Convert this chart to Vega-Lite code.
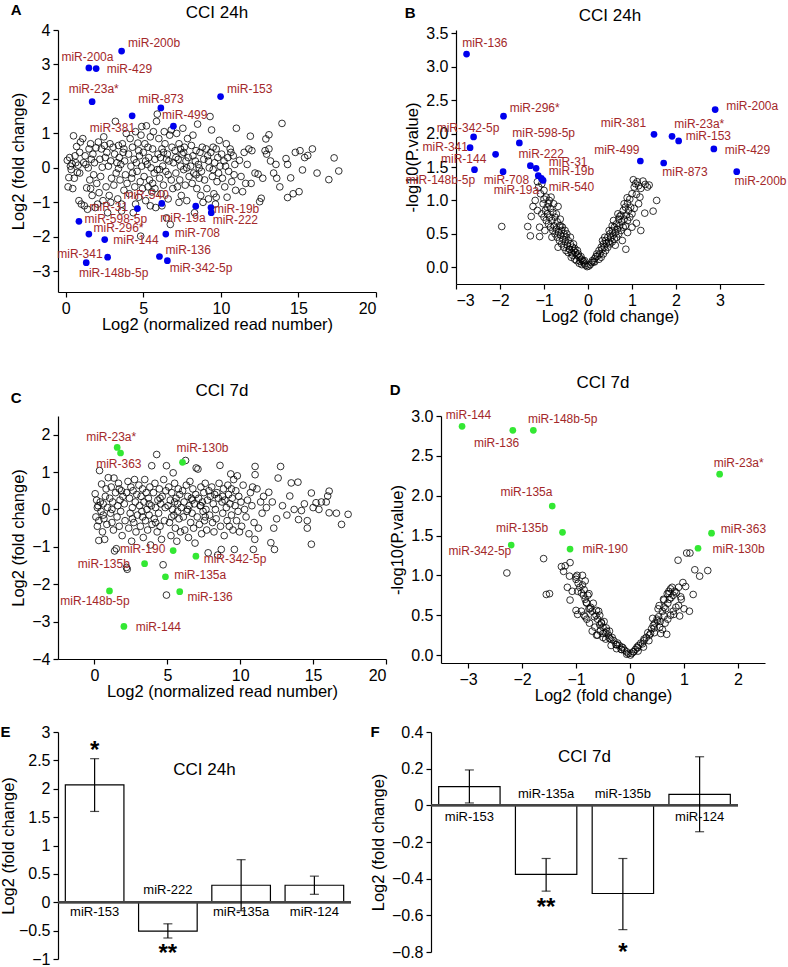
{
"$schema":"https://vega.github.io/schema/vega-lite/v6.json",
"background":"white",
"padding":{"left":0,"top":3,"right":2,"bottom":2},
"config":{
 "font":"Liberation Sans",
 "view":{"stroke":null},
 "axis":{"grid":false,"labelOverlap":false,"domainColor":"black","domainWidth":1.2,"tickColor":"black","tickWidth":1.2,"tickSize":5,"labelColor":"black","labelFontSize":16,"titleColor":"black","titleFontSize":16.5,"titleFontWeight":"normal","labelPadding":3,"titlePadding":5},
 "axisX":{"titlePadding":0},
 "title":{"fontSize":17,"fontWeight":"normal","color":"black","offset":4}
},
"datasets":{
"aOpen":[{"x":0.1,"y":0.22},{"x":0.2,"y":-0.28},{"x":0.3,"y":0.05},{"x":0.15,"y":-0.55},{"x":0.4,"y":0.12},{"x":0.5,"y":0.93},{"x":0.55,"y":-0.3},{"x":0.6,"y":0.35},{"x":0.7,"y":0.62},{"x":0.75,"y":-0.13},{"x":0.8,"y":0.08},{"x":0.85,"y":-0.95},{"x":0.9,"y":0.45},{"x":0.95,"y":0.75},{"x":1.0,"y":-1.05},{"x":0.35,"y":-0.05},{"x":0.65,"y":0.15},{"x":0.45,"y":-0.6},{"x":0.25,"y":0.3},{"x":0.9,"y":-0.15},
{"x":1.1,"y":0.85},{"x":1.2,"y":-1.1},{"x":1.3,"y":0.1},{"x":1.35,"y":-0.58},{"x":1.45,"y":0.0},{"x":1.5,"y":0.55},{"x":1.55,"y":-0.35},{"x":1.6,"y":0.7},{"x":1.65,"y":0.25},{"x":1.7,"y":-0.8},{"x":1.75,"y":0.4},{"x":1.8,"y":-0.2},{"x":1.85,"y":0.15},{"x":1.9,"y":-1.15},{"x":1.95,"y":0.58},{"x":2.0,"y":-0.45},{"x":1.25,"y":0.35},{"x":1.4,"y":-1.2},{"x":1.15,"y":0.15},{"x":1.6,"y":-0.6},
{"x":2.1,"y":0.75},{"x":2.15,"y":-0.72},{"x":2.2,"y":0.25},{"x":2.25,"y":-0.25},{"x":2.3,"y":0.55},{"x":2.35,"y":0.02},{"x":2.4,"y":-0.95},{"x":2.5,"y":0.65},{"x":2.55,"y":0.3},{"x":2.6,"y":-0.55},{"x":2.65,"y":0.45},{"x":2.7,"y":-1.3},{"x":2.75,"y":0.05},{"x":2.8,"y":-0.8},{"x":2.85,"y":0.7},{"x":2.9,"y":0.2},{"x":2.95,"y":-0.3},{"x":2.05,"y":-1.05},{"x":2.45,"y":0.9},{"x":2.9,"y":-1.0},
{"x":3.05,"y":0.6},{"x":3.1,"y":-0.5},{"x":3.15,"y":0.4},{"x":3.2,"y":1.35},{"x":3.25,"y":-0.15},{"x":3.3,"y":0.15},{"x":3.35,"y":-0.9},{"x":3.4,"y":0.65},{"x":3.45,"y":0.3},{"x":3.5,"y":-0.35},{"x":3.55,"y":0.1},{"x":3.6,"y":-1.05},{"x":3.65,"y":0.7},{"x":3.7,"y":0.45},{"x":3.75,"y":-0.65},{"x":3.8,"y":0.2},{"x":3.85,"y":-0.2},{"x":3.9,"y":1.0},{"x":3.95,"y":-0.45},{"x":3.6,"y":-1.25},{"x":3.4,"y":-0.02},{"x":3.75,"y":0.55},
{"x":4.05,"y":0.4},{"x":4.1,"y":-0.75},{"x":4.15,"y":0.85},{"x":4.2,"y":0.05},{"x":4.25,"y":-0.3},{"x":4.3,"y":0.6},{"x":4.35,"y":-1.3},{"x":4.4,"y":0.25},{"x":4.45,"y":-0.55},{"x":4.5,"y":1.05},{"x":4.55,"y":0.15},{"x":4.6,"y":-0.1},{"x":4.65,"y":0.72},{"x":4.7,"y":-0.85},{"x":4.75,"y":0.35},{"x":4.8,"y":-0.4},{"x":4.85,"y":0.95},{"x":4.9,"y":1.2},{"x":4.95,"y":-0.6},{"x":4.83,"y":-1.98},{"x":4.5,"y":-1.05},{"x":4.3,"y":-0.15},{"x":4.7,"y":0.5},{"x":4.9,"y":0.05},
{"x":5.0,"y":0.45},{"x":5.05,"y":-0.25},{"x":5.1,"y":0.7},{"x":5.15,"y":-0.95},{"x":5.2,"y":1.22},{"x":5.25,"y":0.1},{"x":5.3,"y":-0.55},{"x":5.35,"y":0.3},{"x":5.4,"y":-0.35},{"x":5.45,"y":0.9},{"x":5.5,"y":0.0},{"x":5.55,"y":-0.7},{"x":5.6,"y":0.55},{"x":5.65,"y":1.05},{"x":5.7,"y":-0.15},{"x":5.75,"y":0.25},{"x":5.8,"y":-1.15},{"x":5.85,"y":1.35},{"x":5.9,"y":1.56},{"x":5.95,"y":0.4},{"x":5.3,"y":0.6},{"x":5.6,"y":-0.45},{"x":5.15,"y":0.2},{"x":5.75,"y":-0.6},{"x":5.45,"y":-1.1},{"x":5.9,"y":-0.05},
{"x":6.0,"y":0.85},{"x":6.05,"y":-0.3},{"x":6.1,"y":0.3},{"x":6.15,"y":-0.75},{"x":6.2,"y":0.55},{"x":6.25,"y":0.05},{"x":6.3,"y":-0.5},{"x":6.35,"y":1.05},{"x":6.4,"y":0.7},{"x":6.45,"y":-0.1},{"x":6.5,"y":-1.45},{"x":6.55,"y":0.4},{"x":6.6,"y":-0.9},{"x":6.65,"y":0.2},{"x":6.7,"y":0.95},{"x":6.74,"y":-1.64},{"x":6.8,"y":-0.35},{"x":6.85,"y":0.6},{"x":6.9,"y":-0.6},{"x":6.95,"y":0.15},{"x":6.2,"y":-1.1},{"x":6.5,"y":0.25},{"x":6.3,"y":0.45},{"x":6.8,"y":1.1},{"x":6.05,"y":-0.05},{"x":6.6,"y":-0.2},
{"x":7.05,"y":0.5},{"x":7.1,"y":-0.15},{"x":7.15,"y":1.0},{"x":7.2,"y":-0.55},{"x":7.25,"y":0.25},{"x":7.3,"y":0.7},{"x":7.35,"y":-0.35},{"x":7.4,"y":0.05},{"x":7.45,"y":-0.8},{"x":7.5,"y":0.4},{"x":7.55,"y":1.15},{"x":7.6,"y":-0.05},{"x":7.65,"y":0.6},{"x":7.7,"y":-0.5},{"x":7.75,"y":0.2},{"x":7.8,"y":-0.95},{"x":7.85,"y":0.85},{"x":7.9,"y":0.3},{"x":7.95,"y":-0.25},{"x":7.3,"y":-1.0},{"x":7.6,"y":0.45},{"x":7.1,"y":0.3},{"x":7.8,"y":0.0},{"x":7.4,"y":0.55},
{"x":8.05,"y":0.05},{"x":8.1,"y":0.65},{"x":8.15,"y":-0.45},{"x":8.2,"y":0.35},{"x":8.25,"y":-0.15},{"x":8.3,"y":-1.3},{"x":8.35,"y":0.2},{"x":8.4,"y":0.5},{"x":8.45,"y":-0.6},{"x":8.5,"y":1.27},{"x":8.55,"y":0.1},{"x":8.6,"y":-0.3},{"x":8.65,"y":0.45},{"x":8.7,"y":-0.8},{"x":8.75,"y":-0.1},{"x":8.8,"y":0.6},{"x":8.85,"y":-1.0},{"x":8.9,"y":0.25},{"x":8.95,"y":-0.35},{"x":8.2,"y":0.95},{"x":8.6,"y":0.0},{"x":8.4,"y":-0.2},
{"x":9.05,"y":0.55},{"x":9.1,"y":-0.6},{"x":9.15,"y":0.35},{"x":9.2,"y":-0.9},{"x":9.25,"y":0.0},{"x":9.3,"y":1.49},{"x":9.35,"y":0.45},{"x":9.4,"y":1.1},{"x":9.45,"y":-0.25},{"x":9.5,"y":0.6},{"x":9.55,"y":-0.75},{"x":9.6,"y":0.15},{"x":9.65,"y":-1.05},{"x":9.7,"y":0.55},{"x":9.75,"y":-0.4},{"x":9.8,"y":0.3},{"x":9.85,"y":-0.15},{"x":9.9,"y":0.8},{"x":9.95,"y":0.05},{"x":9.2,"y":0.2},{"x":9.5,"y":-0.05},{"x":9.7,"y":-0.85},
{"x":10.05,"y":0.4},{"x":10.1,"y":-0.3},{"x":10.2,"y":0.2},{"x":10.25,"y":-0.55},{"x":10.3,"y":0.05},{"x":10.4,"y":-0.85},{"x":10.45,"y":0.3},{"x":10.5,"y":-0.1},{"x":10.6,"y":0.55},{"x":10.65,"y":0.45},{"x":10.7,"y":-0.4},{"x":10.8,"y":0.35},{"x":10.85,"y":-0.2},{"x":10.9,"y":0.1},{"x":10.95,"y":-0.65},{"x":10.35,"y":0.7},
{"x":11.0,"y":1.15},{"x":11.2,"y":0.22},{"x":11.3,"y":-0.25},{"x":11.4,"y":-0.69},{"x":11.6,"y":-0.45},{"x":11.7,"y":0.1},{"x":11.5,"y":0.45},{"x":11.9,"y":0.92},{"x":11.95,"y":-0.45},{"x":11.8,"y":0.55},
{"x":12.0,"y":0.5},{"x":12.2,"y":-0.15},{"x":12.4,"y":-0.18},{"x":12.5,"y":-0.98},{"x":12.6,"y":-0.88},{"x":12.7,"y":-0.3},{"x":12.85,"y":0.5},{"x":12.9,"y":0.84},{"x":12.95,"y":0.4},
{"x":13.1,"y":0.96},{"x":13.1,"y":0.55},{"x":13.2,"y":0.2},{"x":13.4,"y":-0.15},{"x":13.55,"y":0.1},{"x":13.6,"y":-0.3},{"x":13.8,"y":-0.55},{"x":13.94,"y":1.29},{"x":14.2,"y":0.27},{"x":14.3,"y":-0.86},{"x":14.5,"y":-0.29},{"x":14.66,"y":-0.75},{"x":14.8,"y":0.45},{"x":15.04,"y":-0.69},{"x":15.26,"y":-0.06},{"x":15.4,"y":0.3},{"x":15.6,"y":0.36},{"x":15.9,"y":0.55},{"x":16.2,"y":-0.15},{"x":16.96,"y":-0.34},{"x":17.3,"y":0.29},{"x":17.6,"y":-0.09},{"x":14.3,"y":0.1},{"x":15.1,"y":0.5}],
"aHit":[{"mir":"miR-200b","x":3.6,"y":3.39,"lx":4.02,"ly":3.61},{"mir":"miR-200a","x":1.49,"y":2.9,"lx":-0.28,"ly":3.21},{"mir":"miR-429","x":1.96,"y":2.88,"lx":2.64,"ly":2.88},{"mir":"miR-23a*","x":1.7,"y":1.92,"lx":0.19,"ly":2.28},{"mir":"miR-153","x":9.98,"y":2.07,"lx":10.4,"ly":2.29},{"mir":"miR-873","x":6.13,"y":1.74,"lx":4.68,"ly":2.01},{"mir":"miR-381","x":4.28,"y":1.51,"lx":1.55,"ly":1.15},{"mir":"miR-499","x":6.94,"y":1.21,"lx":6.21,"ly":1.53},{"mir":"miR-540","x":6.19,"y":-1.03,"lx":3.72,"ly":-0.78},{"mir":"miR-31","x":4.62,"y":-1.18,"lx":1.53,"ly":-1.13},{"mir":"miR-19b","x":9.36,"y":-1.15,"lx":9.55,"ly":-1.2},{"mir":"miR-19a","x":8.38,"y":-1.11,"lx":6.09,"ly":-1.45},{"mir":"miR-222","x":9.38,"y":-1.3,"lx":9.47,"ly":-1.5},{"mir":"miR-598-5p","x":0.85,"y":-1.55,"lx":1.21,"ly":-1.48},{"mir":"miR-296*","x":1.49,"y":-1.92,"lx":1.79,"ly":-1.74},{"mir":"miR-144","x":2.51,"y":-2.08,"lx":3.06,"ly":-2.1},{"mir":"miR-708","x":6.45,"y":-1.92,"lx":7.02,"ly":-1.89},{"mir":"miR-136","x":6.04,"y":-2.57,"lx":6.43,"ly":-2.38},{"mir":"miR-342-5p","x":6.55,"y":-2.69,"lx":6.7,"ly":-2.9},{"mir":"miR-341","x":2.7,"y":-2.59,"lx":-0.55,"ly":-2.49},{"mir":"miR-148b-5p","x":1.32,"y":-2.75,"lx":0.85,"ly":-3.05}],
"bOpen":[{"x":-0.02,"y":0.01},{"x":-0.05,"y":0.03},{"x":-0.08,"y":0.05},{"x":-0.1,"y":0.08},{"x":-0.12,"y":0.1},{"x":-0.15,"y":0.12},{"x":-0.18,"y":0.09},{"x":-0.2,"y":0.15},{"x":-0.22,"y":0.2},{"x":-0.25,"y":0.18},{"x":-0.28,"y":0.22},{"x":-0.3,"y":0.28},{"x":-0.32,"y":0.25},{"x":-0.35,"y":0.3},{"x":-0.37,"y":0.22},{"x":-0.4,"y":0.35},{"x":-0.42,"y":0.27},{"x":-0.45,"y":0.4},{"x":-0.47,"y":0.33},{"x":-0.5,"y":0.45},{"x":-0.52,"y":0.38},{"x":-0.55,"y":0.5},{"x":-0.57,"y":0.42},{"x":-0.6,"y":0.55},{"x":-0.62,"y":0.48},{"x":-0.65,"y":0.62},{"x":-0.67,"y":0.52},{"x":-0.7,"y":0.68},{"x":-0.72,"y":0.57},{"x":-0.75,"y":0.75},{"x":-0.77,"y":0.62},{"x":-0.8,"y":0.82},{"x":-0.82,"y":0.7},{"x":-0.85,"y":0.88},{"x":-0.87,"y":0.75},{"x":-0.9,"y":0.95},{"x":-0.92,"y":0.8},{"x":-0.95,"y":1.05},{"x":-0.97,"y":0.85},{"x":-1.0,"y":1.15},{"x":-1.02,"y":0.95},{"x":-1.05,"y":1.25},{"x":-1.08,"y":1.1},{"x":-1.1,"y":0.46},{"x":-1.12,"y":1.2},{"x":-1.15,"y":1.28},{"x":-1.2,"y":1.0},{"x":-1.25,"y":0.91},{"x":-1.29,"y":0.76},{"x":-1.31,"y":0.47},{"x":-1.37,"y":0.61},{"x":-1.96,"y":0.61},{"x":-0.84,"y":1.05},{"x":-0.68,"y":0.91},{"x":-0.63,"y":0.72},{"x":-0.42,"y":0.27},{"x":-0.55,"y":0.3},{"x":-0.6,"y":0.35},{"x":-0.7,"y":0.45},{"x":-0.75,"y":0.5},{"x":-0.8,"y":0.55},{"x":-0.85,"y":0.6},{"x":-0.9,"y":0.65},{"x":-0.95,"y":0.7},{"x":-1.0,"y":0.75},{"x":-1.05,"y":0.8},{"x":-0.5,"y":0.25},{"x":-0.45,"y":0.22},{"x":-0.38,"y":0.15},{"x":-0.3,"y":0.12},{"x":-0.26,"y":0.1},{"x":-0.2,"y":0.06},{"x":-0.14,"y":0.04},{"x":-0.33,"y":0.35},{"x":-0.58,"y":0.6},{"x":-0.72,"y":0.8},{"x":-0.78,"y":0.95},{"x":-0.88,"y":1.0},{"x":-0.93,"y":0.9},{"x":-1.0,"y":1.02},{"x":-0.65,"y":0.4},{"x":-0.52,"y":0.55},{"x":-0.48,"y":0.5},{"x":-1.15,"y":0.85},{"x":-1.1,"y":0.6},{"x":-0.98,"y":0.55},{"x":-0.82,"y":0.45},{"x":-0.68,"y":0.3},{"x":-0.62,"y":0.62},{"x":-0.4,"y":0.45},{"x":-0.35,"y":0.18},{"x":-0.24,"y":0.25},{"x":-0.16,"y":0.16},{"x":-0.08,"y":0.1},
{"x":0.02,"y":0.02},{"x":0.05,"y":0.04},{"x":0.08,"y":0.07},{"x":0.1,"y":0.1},{"x":0.12,"y":0.08},{"x":0.15,"y":0.13},{"x":0.18,"y":0.16},{"x":0.2,"y":0.2},{"x":0.22,"y":0.17},{"x":0.25,"y":0.25},{"x":0.27,"y":0.2},{"x":0.3,"y":0.3},{"x":0.32,"y":0.27},{"x":0.35,"y":0.35},{"x":0.37,"y":0.3},{"x":0.4,"y":0.4},{"x":0.42,"y":0.36},{"x":0.45,"y":0.45},{"x":0.47,"y":0.38},{"x":0.5,"y":0.5},{"x":0.52,"y":0.44},{"x":0.55,"y":0.55},{"x":0.57,"y":0.48},{"x":0.6,"y":0.6},{"x":0.62,"y":0.52},{"x":0.65,"y":0.65},{"x":0.67,"y":0.57},{"x":0.7,"y":0.72},{"x":0.72,"y":0.62},{"x":0.75,"y":0.78},{"x":0.77,"y":0.68},{"x":0.8,"y":0.85},{"x":0.82,"y":0.72},{"x":0.85,"y":0.9},{"x":0.87,"y":0.78},{"x":0.9,"y":0.96},{"x":0.92,"y":0.85},{"x":0.95,"y":1.02},{"x":0.97,"y":0.9},{"x":1.0,"y":1.1},{"x":1.03,"y":1.31},{"x":1.05,"y":1.2},{"x":1.08,"y":1.25},{"x":1.1,"y":1.09},{"x":1.12,"y":1.28},{"x":1.15,"y":1.22},{"x":1.2,"y":1.18},{"x":1.25,"y":1.29},{"x":1.3,"y":1.24},{"x":1.35,"y":1.2},{"x":1.39,"y":1.23},{"x":1.56,"y":1.0},{"x":1.48,"y":0.84},{"x":1.29,"y":0.81},{"x":1.1,"y":0.66},{"x":0.86,"y":0.27},{"x":0.72,"y":0.76},{"x":0.89,"y":1.04},{"x":0.3,"y":0.15},{"x":0.35,"y":0.2},{"x":0.4,"y":0.25},{"x":0.45,"y":0.3},{"x":0.5,"y":0.35},{"x":0.55,"y":0.38},{"x":0.6,"y":0.42},{"x":0.65,"y":0.45},{"x":0.7,"y":0.5},{"x":0.75,"y":0.55},{"x":0.8,"y":0.6},{"x":0.85,"y":0.62},{"x":0.9,"y":0.7},{"x":0.95,"y":0.75},{"x":1.0,"y":0.8},{"x":1.05,"y":0.88},{"x":1.15,"y":0.95},{"x":1.2,"y":0.55},{"x":1.0,"y":0.6},{"x":0.9,"y":0.52},{"x":0.78,"y":0.4},{"x":0.62,"y":0.33},{"x":0.55,"y":0.62},{"x":0.68,"y":0.8},{"x":0.82,"y":0.95},{"x":1.18,"y":1.05},{"x":0.48,"y":0.55},{"x":0.38,"y":0.45},{"x":0.25,"y":0.12},{"x":0.15,"y":0.08},{"x":0.33,"y":0.4},{"x":0.58,"y":0.7}],
"bHit":[{"mir":"miR-136","x":-2.76,"y":3.19,"lx":-2.86,"ly":3.36},{"mir":"miR-296*","x":-1.92,"y":2.26,"lx":-1.78,"ly":2.38},{"mir":"miR-342-5p","x":-2.6,"y":1.95,"lx":-3.44,"ly":2.09},{"mir":"miR-341","x":-2.68,"y":1.79,"lx":-3.76,"ly":1.8},{"mir":"miR-598-5p","x":-1.56,"y":1.86,"lx":-1.72,"ly":2.01},{"mir":"miR-144","x":-2.1,"y":1.69,"lx":-3.34,"ly":1.62},{"mir":"miR-148b-5p","x":-2.58,"y":1.46,"lx":-4.14,"ly":1.3},{"mir":"miR-708","x":-1.93,"y":1.43,"lx":-2.37,"ly":1.3},{"mir":"miR-222","x":-1.31,"y":1.52,"lx":-1.58,"ly":1.69},{"mir":"miR-31","x":-1.18,"y":1.48,"lx":-0.89,"ly":1.57},{"mir":"miR-19b","x":-1.13,"y":1.37,"lx":-0.89,"ly":1.44},{"mir":"miR-19a","x":-1.06,"y":1.33,"lx":-2.14,"ly":1.15},{"mir":"miR-540","x":-1.02,"y":1.3,"lx":-0.89,"ly":1.2},{"mir":"miR-381","x":1.5,"y":1.99,"lx":0.29,"ly":2.16},{"mir":"miR-23a*","x":1.91,"y":1.96,"lx":1.96,"ly":2.14},{"mir":"miR-153","x":2.06,"y":1.89,"lx":2.22,"ly":1.97},{"mir":"miR-200a","x":2.89,"y":2.36,"lx":3.14,"ly":2.42},{"mir":"miR-429","x":2.86,"y":1.77,"lx":3.11,"ly":1.75},{"mir":"miR-200b","x":3.38,"y":1.43,"lx":3.33,"ly":1.29},{"mir":"miR-499","x":1.19,"y":1.59,"lx":0.14,"ly":1.75},{"mir":"miR-873","x":1.72,"y":1.56,"lx":1.69,"ly":1.42}],
"cOpen":[{"x":0.05,"y":0.42},{"x":0.1,"y":-0.2},{"x":0.15,"y":0.25},{"x":0.2,"y":-0.45},{"x":0.25,"y":0.1},{"x":0.3,"y":-0.3},{"x":0.35,"y":1.04},{"x":0.4,"y":0.2},{"x":0.45,"y":-0.05},{"x":0.49,"y":0.68},{"x":0.55,"y":-0.6},{"x":0.6,"y":0.15},{"x":0.65,"y":-0.25},{"x":0.7,"y":-0.8},{"x":0.75,"y":0.35},{"x":0.8,"y":0.55},{"x":0.85,"y":-0.4},{"x":0.9,"y":0.05},{"x":0.95,"y":0.85},{"x":0.3,"y":-0.83},{"x":0.2,"y":0.05},{"x":0.6,"y":-0.15},
{"x":1.05,"y":0.3},{"x":1.1,"y":-0.1},{"x":1.15,"y":0.6},{"x":1.2,"y":-0.35},{"x":1.25,"y":0.2},{"x":1.3,"y":-0.55},{"x":1.34,"y":0.84},{"x":1.38,"y":-1.11},{"x":1.45,"y":0.45},{"x":1.5,"y":-1.05},{"x":1.55,"y":-0.2},{"x":1.6,"y":0.1},{"x":1.65,"y":0.7},{"x":1.7,"y":-0.45},{"x":1.75,"y":0.25},{"x":1.8,"y":-0.05},{"x":1.85,"y":0.5},{"x":1.9,"y":-0.7},{"x":1.95,"y":0.35},{"x":1.2,"y":0.0},{"x":1.7,"y":0.55},
{"x":2.05,"y":0.15},{"x":2.1,"y":-0.3},{"x":2.2,"y":-1.55},{"x":2.25,"y":-1.6},{"x":2.3,"y":0.75},{"x":2.35,"y":-0.5},{"x":2.4,"y":0.3},{"x":2.45,"y":-0.1},{"x":2.5,"y":0.6},{"x":2.55,"y":-0.85},{"x":2.6,"y":0.05},{"x":2.65,"y":0.5},{"x":2.7,"y":-0.35},{"x":2.75,"y":0.8},{"x":2.8,"y":0.2},{"x":2.85,"y":-0.6},{"x":2.9,"y":0.4},{"x":2.95,"y":-0.15},{"x":2.2,"y":0.45},{"x":2.6,"y":-0.25},
{"x":3.05,"y":0.65},{"x":3.1,"y":0.1},{"x":3.15,"y":-0.45},{"x":3.2,"y":0.35},{"x":3.25,"y":-0.05},{"x":3.3,"y":0.55},{"x":3.35,"y":-0.75},{"x":3.4,"y":0.2},{"x":3.45,"y":0.8},{"x":3.5,"y":-0.3},{"x":3.55,"y":0.45},{"x":3.6,"y":0.0},{"x":3.65,"y":-0.55},{"x":3.7,"y":0.3},{"x":3.75,"y":-0.15},{"x":3.8,"y":0.6},{"x":3.85,"y":-0.95},{"x":3.9,"y":0.1},{"x":3.93,"y":1.17},{"x":3.95,"y":-0.4},{"x":3.3,"y":-0.2},{"x":3.75,"y":0.15},
{"x":4.05,"y":0.45},{"x":4.1,"y":-0.25},{"x":4.15,"y":0.7},{"x":4.2,"y":0.05},{"x":4.27,"y":1.47},{"x":4.3,"y":-0.6},{"x":4.35,"y":0.25},{"x":4.4,"y":-0.1},{"x":4.45,"y":0.55},{"x":4.5,"y":-0.45},{"x":4.55,"y":0.15},{"x":4.6,"y":-0.8},{"x":4.65,"y":0.35},{"x":4.71,"y":-1.48},{"x":4.75,"y":0.8},{"x":4.8,"y":-0.3},{"x":4.85,"y":0.05},{"x":4.94,"y":1.17},{"x":4.94,"y":-2.29},{"x":4.9,"y":0.5},{"x":4.5,"y":0.3},{"x":4.2,"y":-0.35},
{"x":5.05,"y":0.1},{"x":5.1,"y":0.6},{"x":5.15,"y":-0.35},{"x":5.2,"y":0.25},{"x":5.25,"y":-0.7},{"x":5.3,"y":0.45},{"x":5.35,"y":0.0},{"x":5.4,"y":0.98},{"x":5.45,"y":-0.15},{"x":5.5,"y":0.7},{"x":5.55,"y":-0.5},{"x":5.6,"y":0.3},{"x":5.65,"y":-0.85},{"x":5.7,"y":0.15},{"x":5.75,"y":0.55},{"x":5.8,"y":-0.25},{"x":5.85,"y":0.4},{"x":5.9,"y":-0.6},{"x":5.95,"y":0.05},{"x":5.3,"y":-0.2},{"x":5.7,"y":-0.05},{"x":5.5,"y":0.2},
{"x":6.05,"y":0.5},{"x":6.1,"y":-0.2},{"x":6.15,"y":0.2},{"x":6.2,"y":-0.55},{"x":6.25,"y":1.31},{"x":6.3,"y":0.65},{"x":6.35,"y":-0.05},{"x":6.4,"y":0.35},{"x":6.45,"y":-0.75},{"x":6.5,"y":0.1},{"x":6.55,"y":0.75},{"x":6.6,"y":-0.35},{"x":6.65,"y":0.3},{"x":6.7,"y":-0.1},{"x":6.75,"y":0.55},{"x":6.8,"y":-0.5},{"x":6.85,"y":0.15},{"x":6.9,"y":-0.9},{"x":6.98,"y":1.11},{"x":6.95,"y":0.4},{"x":6.4,"y":0.0},{"x":6.7,"y":0.25},
{"x":7.05,"y":-0.2},{"x":7.1,"y":1.08},{"x":7.15,"y":0.3},{"x":7.2,"y":-0.4},{"x":7.25,"y":0.1},{"x":7.3,"y":0.6},{"x":7.35,"y":-0.65},{"x":7.4,"y":0.2},{"x":7.45,"y":-0.05},{"x":7.5,"y":0.45},{"x":7.55,"y":-0.3},{"x":7.6,"y":0.7},{"x":7.65,"y":0.0},{"x":7.7,"y":-0.55},{"x":7.75,"y":0.25},{"x":7.8,"y":-1.16},{"x":7.85,"y":0.5},{"x":7.9,"y":-0.15},{"x":7.95,"y":0.35},{"x":7.3,"y":0.1},{"x":7.6,"y":-0.2},
{"x":8.05,"y":0.6},{"x":8.1,"y":-0.35},{"x":8.15,"y":0.15},{"x":8.2,"y":-0.6},{"x":8.25,"y":0.4},{"x":8.3,"y":0.0},{"x":8.35,"y":-0.25},{"x":8.45,"y":-1.22},{"x":8.5,"y":0.3},{"x":8.55,"y":0.7},{"x":8.61,"y":1.18},{"x":8.65,"y":-0.45},{"x":8.7,"y":-1.07},{"x":8.75,"y":0.2},{"x":8.8,"y":-0.1},{"x":8.85,"y":0.55},{"x":8.9,"y":-0.7},{"x":8.95,"y":0.25},{"x":8.4,"y":0.45},{"x":8.8,"y":0.35},
{"x":9.05,"y":0.05},{"x":9.1,"y":-0.3},{"x":9.15,"y":0.65},{"x":9.2,"y":0.4},{"x":9.25,"y":-0.45},{"x":9.3,"y":0.15},{"x":9.35,"y":0.95},{"x":9.4,"y":-0.15},{"x":9.45,"y":0.3},{"x":9.5,"y":-0.55},{"x":9.55,"y":0.8},{"x":9.6,"y":-1.07},{"x":9.65,"y":0.1},{"x":9.7,"y":0.5},{"x":9.75,"y":-0.3},{"x":9.8,"y":0.9},{"x":9.85,"y":-0.05},{"x":9.9,"y":0.35},{"x":9.95,"y":-0.6},{"x":9.4,"y":0.55},
{"x":10.05,"y":0.2},{"x":10.1,"y":-0.45},{"x":10.2,"y":0.65},{"x":10.3,"y":0.0},{"x":10.4,"y":-0.2},{"x":10.5,"y":0.25},{"x":10.6,"y":-0.65},{"x":10.7,"y":0.45},{"x":10.8,"y":0.1},{"x":10.9,"y":-1.07},{"x":10.95,"y":-0.35},{"x":11.02,"y":1.15},{"x":11.02,"y":0.93},{"x":10.85,"y":0.6},{"x":11.0,"y":-0.8},
{"x":11.15,"y":0.55},{"x":11.25,"y":-0.5},{"x":11.4,"y":0.2},{"x":11.5,"y":-0.1},{"x":11.6,"y":0.35},{"x":11.8,"y":0.05},{"x":11.96,"y":0.46},{"x":12.1,"y":-0.89},{"x":12.35,"y":-1.07},{"x":12.2,"y":0.2},{"x":12.6,"y":0.84},{"x":12.77,"y":1.15},{"x":12.5,"y":-0.25},{"x":12.9,"y":0.1},{"x":12.3,"y":-0.5},
{"x":13.4,"y":0.36},{"x":13.5,"y":0.71},{"x":13.2,"y":-0.15},{"x":13.7,"y":0.0},{"x":13.96,"y":0.73},{"x":14.0,"y":-0.27},{"x":14.2,"y":-0.03},{"x":14.4,"y":0.15},{"x":14.6,"y":-0.3},{"x":14.6,"y":-0.5},{"x":14.88,"y":0.44},{"x":14.88,"y":-0.93},{"x":15.2,"y":0.18},{"x":15.57,"y":0.2},{"x":15.9,"y":0.2},{"x":15.4,"y":0.0},{"x":16.0,"y":0.36},{"x":16.1,"y":0.49},{"x":16.1,"y":-0.09},{"x":16.6,"y":-0.1},{"x":16.95,"y":-0.4},{"x":17.4,"y":-0.13},{"x":15.0,"y":0.05}],
"cHit":[{"mir":"miR-23a*","x":1.56,"y":1.66,"lx":-0.57,"ly":1.95},{"mir":"miR-363","x":1.79,"y":1.51,"lx":0.12,"ly":1.22},{"mir":"miR-130b","x":6.04,"y":1.26,"lx":5.63,"ly":1.64},{"mir":"miR-190","x":5.4,"y":-1.1,"lx":1.75,"ly":-1.07},{"mir":"miR-342-5p","x":6.96,"y":-1.25,"lx":7.49,"ly":-1.33},{"mir":"miR-135b","x":3.44,"y":-1.45,"lx":-1.14,"ly":-1.46},{"mir":"miR-135a","x":4.87,"y":-1.8,"lx":5.47,"ly":-1.76},{"mir":"miR-148b-5p","x":1.03,"y":-2.18,"lx":-2.34,"ly":-2.44},{"mir":"miR-136","x":5.85,"y":-2.2,"lx":6.38,"ly":-2.33},{"mir":"miR-144","x":2.02,"y":-3.13,"lx":2.83,"ly":-3.14}],
"dOpen":[{"x":-0.03,"y":0.02},{"x":-0.06,"y":0.04},{"x":-0.1,"y":0.06},{"x":-0.13,"y":0.09},{"x":-0.16,"y":0.07},{"x":-0.2,"y":0.12},{"x":-0.23,"y":0.15},{"x":-0.26,"y":0.13},{"x":-0.3,"y":0.18},{"x":-0.33,"y":0.22},{"x":-0.36,"y":0.2},{"x":-0.4,"y":0.25},{"x":-0.43,"y":0.3},{"x":-0.46,"y":0.28},{"x":-0.5,"y":0.35},{"x":-0.53,"y":0.4},{"x":-0.56,"y":0.38},{"x":-0.6,"y":0.45},{"x":-0.63,"y":0.5},{"x":-0.66,"y":0.48},{"x":-0.7,"y":0.55},{"x":-0.73,"y":0.6},{"x":-0.76,"y":0.58},{"x":-0.8,"y":0.65},{"x":-0.83,"y":0.7},{"x":-0.86,"y":0.75},{"x":-0.9,"y":0.78},{"x":-0.93,"y":0.85},{"x":-0.96,"y":0.9},{"x":-1.0,"y":0.95},{"x":-0.5,"y":0.22},{"x":-0.45,"y":0.2},{"x":-0.55,"y":0.3},{"x":-0.6,"y":0.25},{"x":-0.65,"y":0.35},{"x":-0.7,"y":0.3},{"x":-0.75,"y":0.4},{"x":-0.8,"y":0.45},{"x":-0.85,"y":0.5},{"x":-0.9,"y":0.55},{"x":-0.38,"y":0.3},{"x":-0.48,"y":0.42},{"x":-0.58,"y":0.55},{"x":-0.68,"y":0.65},{"x":-0.78,"y":0.75},{"x":-0.88,"y":0.88},{"x":-0.98,"y":1.0},{"x":-0.35,"y":0.12},{"x":-0.25,"y":0.08},{"x":-0.15,"y":0.1},
{"x":-2.28,"y":1.03},{"x":-1.6,"y":1.21},{"x":-1.55,"y":0.76},{"x":-1.49,"y":0.77},{"x":-1.27,"y":1.11},{"x":-1.2,"y":1.12},{"x":-1.11,"y":1.16},{"x":-1.23,"y":1.05},{"x":-1.12,"y":0.99},{"x":-1.0,"y":0.98},{"x":-0.88,"y":1.0},{"x":-0.83,"y":0.93},{"x":-1.16,"y":0.85},{"x":-1.07,"y":0.8},{"x":-0.97,"y":0.8},{"x":-0.85,"y":0.82},{"x":-0.76,"y":0.77},{"x":-1.0,"y":0.56},{"x":-0.97,"y":0.51},{"x":-1.11,"y":0.69},{"x":-0.81,"y":0.66},{"x":-0.74,"y":0.58},{"x":-0.83,"y":0.48},{"x":-0.62,"y":0.56},{"x":-0.56,"y":0.5},{"x":-0.53,"y":0.41},{"x":-0.62,"y":0.25},{"x":-0.5,"y":0.27},{"x":-0.44,"y":0.34},{"x":-0.38,"y":0.21},{"x":-0.25,"y":0.13},{"x":-0.16,"y":0.07},{"x":-0.06,"y":0.01},{"x":0.01,"y":0.0},
{"x":0.03,"y":0.02},{"x":0.06,"y":0.04},{"x":0.1,"y":0.07},{"x":0.13,"y":0.1},{"x":0.16,"y":0.12},{"x":0.2,"y":0.15},{"x":0.23,"y":0.14},{"x":0.26,"y":0.2},{"x":0.3,"y":0.22},{"x":0.33,"y":0.28},{"x":0.36,"y":0.25},{"x":0.4,"y":0.33},{"x":0.43,"y":0.37},{"x":0.46,"y":0.4},{"x":0.5,"y":0.45},{"x":0.53,"y":0.48},{"x":0.56,"y":0.42},{"x":0.6,"y":0.55},{"x":0.63,"y":0.6},{"x":0.66,"y":0.58},{"x":0.7,"y":0.65},{"x":0.73,"y":0.7},{"x":0.76,"y":0.72},{"x":0.8,"y":0.75},{"x":0.83,"y":0.8},{"x":0.86,"y":0.78},{"x":0.9,"y":0.85},{"x":0.35,"y":0.18},{"x":0.45,"y":0.28},{"x":0.55,"y":0.35},{"x":0.6,"y":0.32},{"x":0.65,"y":0.4},{"x":0.7,"y":0.45},{"x":0.75,"y":0.5},{"x":0.8,"y":0.55},{"x":0.85,"y":0.6},{"x":0.9,"y":0.62},{"x":0.95,"y":0.7},{"x":1.0,"y":0.58},{"x":0.42,"y":0.46},{"x":0.52,"y":0.58},{"x":0.62,"y":0.7},{"x":0.72,"y":0.8},{"x":0.78,"y":0.85},{"x":0.68,"y":0.26},{"x":0.25,"y":0.1},{"x":0.15,"y":0.05},
{"x":0.89,"y":1.19},{"x":1.05,"y":1.28},{"x":1.11,"y":1.28},{"x":1.2,"y":1.07},{"x":1.44,"y":1.06},{"x":1.29,"y":0.99},{"x":0.98,"y":0.91},{"x":1.03,"y":0.86},{"x":0.75,"y":0.83},{"x":0.69,"y":0.77},{"x":0.63,"y":0.69},{"x":0.94,"y":0.73},{"x":1.17,"y":0.76},{"x":1.1,"y":0.55},{"x":0.92,"y":0.49},{"x":0.81,"y":0.51},{"x":0.63,"y":0.49},{"x":0.51,"y":0.43},{"x":0.45,"y":0.34},{"x":0.38,"y":0.27},{"x":0.57,"y":0.27},{"x":0.26,"y":0.18},{"x":0.14,"y":0.09},{"x":0.07,"y":0.04},{"x":0.54,"y":0.62},{"x":0.72,"y":0.77}],
"dHit":[{"mir":"miR-144","x":-3.11,"y":2.87,"lx":-3.41,"ly":3.01},{"mir":"miR-136","x":-2.17,"y":2.82,"lx":-2.89,"ly":2.66},{"mir":"miR-148b-5p","x":-1.79,"y":2.82,"lx":-1.89,"ly":2.96},{"mir":"miR-23a*","x":1.66,"y":2.27,"lx":1.55,"ly":2.41},{"mir":"miR-135a","x":-1.44,"y":1.87,"lx":-2.4,"ly":2.04},{"mir":"miR-135b","x":-1.25,"y":1.54,"lx":-2.48,"ly":1.59},{"mir":"miR-342-5p","x":-2.2,"y":1.38,"lx":-3.36,"ly":1.3},{"mir":"miR-190","x":-1.11,"y":1.33,"lx":-0.88,"ly":1.33},{"mir":"miR-363","x":1.51,"y":1.53,"lx":1.68,"ly":1.58},{"mir":"miR-130b","x":1.26,"y":1.34,"lx":1.53,"ly":1.33}],
"e":[{"mir":"miR-153","v":2.07,"lo":1.6,"hi":2.53,"sig":"*","sy":2.75},{"mir":"miR-222","v":-0.51,"lo":-0.63,"hi":-0.38,"sig":"**","sy":-0.82},{"mir":"miR-135a","v":0.3,"lo":-0.15,"hi":0.75},{"mir":"miR-124","v":0.3,"lo":0.14,"hi":0.46}],
"f":[{"mir":"miR-153","v":0.102,"lo":0.013,"hi":0.193},{"mir":"miR-135a","v":-0.377,"lo":-0.468,"hi":-0.29,"sig":"**","sy":-0.53},{"mir":"miR-135b","v":-0.481,"lo":-0.678,"hi":-0.29,"sig":"*","sy":-0.78},{"mir":"miR-124","v":0.06,"lo":-0.144,"hi":0.265}]
},
"spacing":20,
"vconcat":[
{"spacing":41,"vconcat":[
{"hconcat":[
 {"title":{"text":"A","anchor":"start","fontWeight":"bold","fontSize":15,"dy":18},
  "vconcat":[{"title":{"text":"CCI 24h","offset":0},"width":318,"height":262,
   "layer":[
    {"data":{"name":"aOpen"},"mark":{"type":"point","shape":"circle","filled":false,"color":"black","strokeWidth":0.8,"size":45,"opacity":1},
     "encoding":{"x":{"field":"x","type":"quantitative","scale":{"domain":[-0.5,20],"nice":false,"zero":false},"axis":{"values":[0,5,10,15,20],"tickCount":30,"format":"~g","labelOverlap":false,"title":"Log2 (normalized read number)"}},
                 "y":{"field":"y","type":"quantitative","scale":{"domain":[-3.6,4],"nice":false,"zero":false},"axis":{"values":[-3,-2,-1,0,1,2,3,4],"tickCount":30,"format":"~g","labelOverlap":false,"title":"Log2 (fold change)"}}}},
    {"data":{"name":"aHit"},"mark":{"type":"circle","color":"#0000ee","size":45,"opacity":1},
     "encoding":{"x":{"field":"x","type":"quantitative"},"y":{"field":"y","type":"quantitative"}}},
    {"data":{"name":"aHit"},"mark":{"type":"text","align":"left","baseline":"middle","color":"#a3282a","fontSize":12},
     "encoding":{"x":{"field":"lx","type":"quantitative"},"y":{"field":"ly","type":"quantitative"},"text":{"field":"mir"}}}
   ]}]},
 {"title":{"text":"B","anchor":"start","fontWeight":"bold","fontSize":15,"dy":18},
  "vconcat":[{"title":{"text":"CCI 24h","offset":0},"width":308,"height":254,
   "layer":[
    {"data":{"name":"bOpen"},"mark":{"type":"point","shape":"circle","filled":false,"color":"black","strokeWidth":0.8,"size":45,"opacity":1},
     "encoding":{"x":{"field":"x","type":"quantitative","scale":{"domain":[-3,4],"nice":false,"zero":false},"axis":{"values":[-3,-2,-1,0,1,2,3],"tickCount":30,"format":"~g","labelOverlap":false,"title":"Log2 (fold change)"}},
                 "y":{"field":"y","type":"quantitative","scale":{"domain":[-0.25,3.55],"nice":false,"zero":false},"axis":{"values":[0,0.5,1,1.5,2,2.5,3,3.5],"tickCount":30,"format":".1f","labelOverlap":false,"title":"-log10(P.value)"}}}},
    {"data":{"name":"bHit"},"mark":{"type":"circle","color":"#0000ee","size":45,"opacity":1},
     "encoding":{"x":{"field":"x","type":"quantitative"},"y":{"field":"y","type":"quantitative"}}},
    {"data":{"name":"bHit"},"mark":{"type":"text","align":"left","baseline":"middle","color":"#a3282a","fontSize":12},
     "encoding":{"x":{"field":"lx","type":"quantitative"},"y":{"field":"ly","type":"quantitative"},"text":{"field":"mir"}}}
   ]}]}
],"spacing":27},
{"hconcat":[
 {"title":{"text":"C","anchor":"start","fontWeight":"bold","fontSize":15,"dy":28},
  "vconcat":[{"title":{"text":"CCI 7d","offset":16},"width":328,"height":243,
   "layer":[
    {"data":{"name":"cOpen"},"mark":{"type":"point","shape":"circle","filled":false,"color":"black","strokeWidth":0.8,"size":45,"opacity":1},
     "encoding":{"x":{"field":"x","type":"quantitative","scale":{"domain":[-2.5,20],"nice":false,"zero":false},"axis":{"values":[0,5,10,15,20],"tickCount":30,"format":"~g","labelOverlap":false,"title":"Log2 (normalized read number)"}},
                 "y":{"field":"y","type":"quantitative","scale":{"domain":[-4,2.5],"nice":false,"zero":false},"axis":{"values":[-4,-3,-2,-1,0,1,2],"tickCount":30,"format":"~g","labelOverlap":false,"title":"Log2 (fold change)"}}}},
    {"data":{"name":"cHit"},"mark":{"type":"circle","color":"#33e833","size":45,"opacity":1},
     "encoding":{"x":{"field":"x","type":"quantitative"},"y":{"field":"y","type":"quantitative"}}},
    {"data":{"name":"cHit"},"mark":{"type":"text","align":"left","baseline":"middle","color":"#a3282a","fontSize":12},
     "encoding":{"x":{"field":"lx","type":"quantitative"},"y":{"field":"ly","type":"quantitative"},"text":{"field":"mir"}}}
   ]}]},
 {"title":{"text":"D","anchor":"start","fontWeight":"bold","fontSize":15,"dy":28},
  "vconcat":[{"title":{"text":"CCI 7d","offset":16},"width":324,"height":247,
   "layer":[
    {"data":{"name":"dOpen"},"mark":{"type":"point","shape":"circle","filled":false,"color":"black","strokeWidth":0.8,"size":45,"opacity":1},
     "encoding":{"x":{"field":"x","type":"quantitative","scale":{"domain":[-3.5,2.5],"nice":false,"zero":false},"axis":{"values":[-3,-2,-1,0,1,2],"tickCount":30,"format":"~g","labelOverlap":false,"title":"Log2 (fold change)"}},
                 "y":{"field":"y","type":"quantitative","scale":{"domain":[-0.1,3.0],"nice":false,"zero":false},"axis":{"values":[0,0.5,1,1.5,2,2.5,3],"tickCount":30,"format":".1f","labelOverlap":false,"title":"-log10(P.value)"}}}},
    {"data":{"name":"dHit"},"mark":{"type":"circle","color":"#33e833","size":45,"opacity":1},
     "encoding":{"x":{"field":"x","type":"quantitative"},"y":{"field":"y","type":"quantitative"}}},
    {"data":{"name":"dHit"},"mark":{"type":"text","align":"left","baseline":"middle","color":"#a3282a","fontSize":12},
     "encoding":{"x":{"field":"lx","type":"quantitative"},"y":{"field":"ly","type":"quantitative"},"text":{"field":"mir"}}}
   ]}]}
],"spacing":2}
]},
{"hconcat":[
 {"title":{"text":"E","anchor":"start","fontWeight":"bold","fontSize":15,"dy":20},
  "vconcat":[{"title":{"text":"CCI 24h","dy":59},"width":293,"height":227,"data":{"name":"e"},
   "layer":[
    {"mark":{"type":"bar","fill":"white","stroke":"black","strokeWidth":1.2},
     "encoding":{"x":{"field":"mir","type":"nominal","sort":null,"scale":{"paddingInner":0.2,"paddingOuter":0.1},"axis":null},
                 "y":{"field":"v","type":"quantitative","scale":{"domain":[-1,3],"nice":false},"axis":{"values":[-1,-0.5,0,0.5,1,1.5,2,2.5,3],"tickCount":30,"format":"~g","labelOverlap":false,"titlePadding":2,"title":"Log2 (fold change)"}}}},
    {"mark":{"type":"rule","color":"#444444","strokeWidth":2},"encoding":{"y":{"datum":0}}},
    {"mark":{"type":"rule","color":"black","strokeWidth":1.2},"encoding":{"x":{"field":"mir","type":"nominal","sort":null},"y":{"field":"lo","type":"quantitative"},"y2":{"field":"hi"}}},
    {"mark":{"type":"tick","color":"black","size":9,"thickness":1.2},"encoding":{"x":{"field":"mir","type":"nominal","sort":null},"y":{"field":"lo","type":"quantitative"}}},
    {"mark":{"type":"tick","color":"black","size":9,"thickness":1.2},"encoding":{"x":{"field":"mir","type":"nominal","sort":null},"y":{"field":"hi","type":"quantitative"}}},
    {"transform":[{"filter":"datum.v >= 0"}],"mark":{"type":"text","fontSize":13,"dy":10,"baseline":"middle","color":"black"},
     "encoding":{"x":{"field":"mir","type":"nominal","sort":null},"y":{"datum":0},"text":{"field":"mir"}}},
    {"transform":[{"filter":"datum.v < 0"}],"mark":{"type":"text","fontSize":13,"dy":-12,"baseline":"middle","color":"black"},
     "encoding":{"x":{"field":"mir","type":"nominal","sort":null},"y":{"datum":0},"text":{"field":"mir"}}},
    {"transform":[{"filter":"isValid(datum.sig)"}],"mark":{"type":"text","fontSize":24,"fontWeight":"bold","dy":5,"baseline":"middle","color":"black"},
     "encoding":{"x":{"field":"mir","type":"nominal","sort":null},"y":{"field":"sy","type":"quantitative"},"text":{"field":"sig"}}}
   ]}]},
 {"title":{"text":"F","anchor":"start","fontWeight":"bold","fontSize":15,"dy":20},
  "vconcat":[{"title":{"text":"CCI 7d","dy":46},"width":307,"height":220,"data":{"name":"f"},
   "layer":[
    {"mark":{"type":"bar","fill":"white","stroke":"black","strokeWidth":1.2},
     "encoding":{"x":{"field":"mir","type":"nominal","sort":null,"scale":{"paddingInner":0.2,"paddingOuter":0.1},"axis":null},
                 "y":{"field":"v","type":"quantitative","scale":{"domain":[-0.8,0.4],"nice":false},"axis":{"values":[-0.8,-0.6,-0.4,-0.2,0,0.2,0.4],"tickCount":30,"format":"~g","labelOverlap":false,"title":"Log2 (fold change)"}}}},
    {"mark":{"type":"rule","color":"#444444","strokeWidth":2},"encoding":{"y":{"datum":0}}},
    {"mark":{"type":"rule","color":"black","strokeWidth":1.2},"encoding":{"x":{"field":"mir","type":"nominal","sort":null},"y":{"field":"lo","type":"quantitative"},"y2":{"field":"hi"}}},
    {"mark":{"type":"tick","color":"black","size":9,"thickness":1.2},"encoding":{"x":{"field":"mir","type":"nominal","sort":null},"y":{"field":"lo","type":"quantitative"}}},
    {"mark":{"type":"tick","color":"black","size":9,"thickness":1.2},"encoding":{"x":{"field":"mir","type":"nominal","sort":null},"y":{"field":"hi","type":"quantitative"}}},
    {"transform":[{"filter":"datum.v >= 0"}],"mark":{"type":"text","fontSize":13,"dy":12,"baseline":"middle","color":"black"},
     "encoding":{"x":{"field":"mir","type":"nominal","sort":null},"y":{"datum":0},"text":{"field":"mir"}}},
    {"transform":[{"filter":"datum.v < 0"}],"mark":{"type":"text","fontSize":13,"dy":-11,"baseline":"middle","color":"black"},
     "encoding":{"x":{"field":"mir","type":"nominal","sort":null},"y":{"datum":0},"text":{"field":"mir"}}},
    {"transform":[{"filter":"isValid(datum.sig)"}],"mark":{"type":"text","fontSize":24,"fontWeight":"bold","dy":5,"baseline":"middle","color":"black"},
     "encoding":{"x":{"field":"mir","type":"nominal","sort":null},"y":{"field":"sy","type":"quantitative"},"text":{"field":"sig"}}}
   ]}]}
],"spacing":18}
]
}
